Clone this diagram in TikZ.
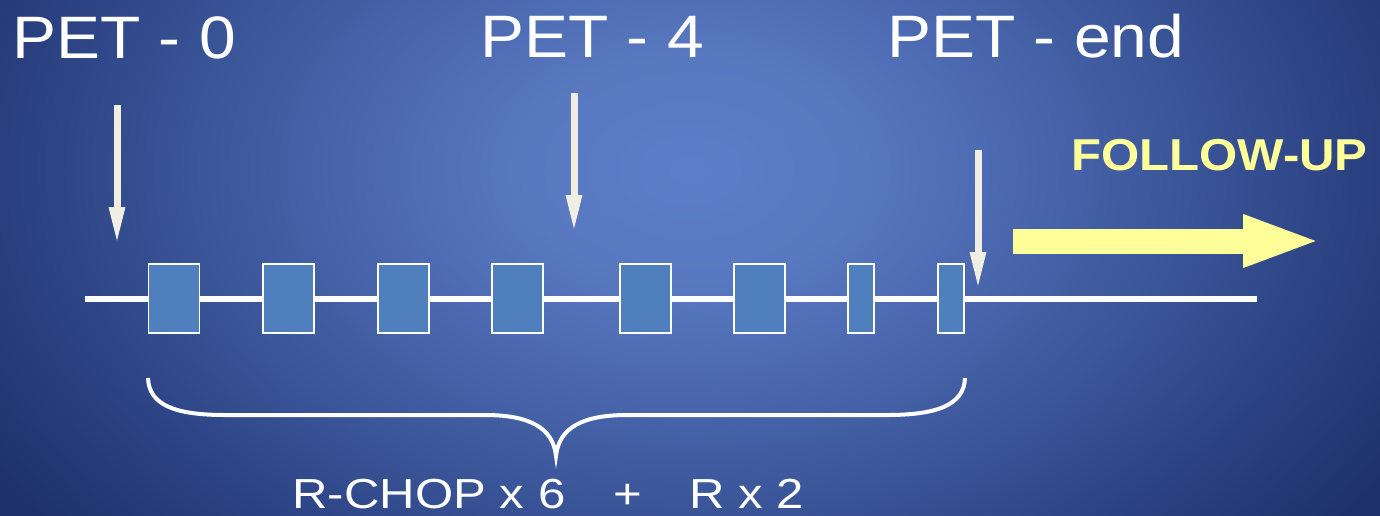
\documentclass[tikz,border=0pt]{standalone}
\usepackage{fontspec}
\setmainfont{Liberation Sans}
\usetikzlibrary{arrows.meta}

\definecolor{bgA}{HTML}{5C7EC8}
\definecolor{bgB}{HTML}{5878C0}
\definecolor{bgC}{HTML}{4A67AE}
\definecolor{bgD}{HTML}{3A5598}
\definecolor{bgE}{HTML}{2B4282}
\definecolor{bgF}{HTML}{1E316D}
\definecolor{cyclefill}{HTML}{4F7FBC}
\definecolor{petcol}{HTML}{F0EDE2}
\definecolor{fucol}{HTML}{FFFF99}

% soft glow behind the slide (the path's box spans -25bp..25bp)
\pgfdeclareradialshading{slideglow}{\pgfpoint{0bp}{0bp}}{%
  color(0bp)=(bgA); color(4bp)=(bgB); color(8bp)=(bgC);
  color(12bp)=(bgD); color(16bp)=(bgE); color(20bp)=(bgF);
  color(50bp)=(bgF)}

\tikzset{
  pettext/.style={anchor=base west, text=white, inner sep=0pt, xscale=1.1,
    font=\fontsize{34.1pt}{40pt}\selectfont},
  futext/.style={anchor=base west, text=fucol, inner sep=0pt, xscale=1.10,
    font=\fontsize{25.4pt}{30pt}\selectfont\bfseries},
  regtext/.style={anchor=base west, text=white, inner sep=0pt, xscale=1.17,
    font=\fontsize{23.9pt}{28pt}\selectfont},
  timeline/.style={draw=white, line width=0.12cm},
  cycle/.style={draw=white, line width=0.8pt, fill=cyclefill, inner sep=0pt,
    minimum height=1.38cm, minimum width=1.02cm},
  halfcycle/.style={cycle, minimum width=0.52cm},
  petarrow/.style={draw=petcol, line width=0.14cm,
    -{Triangle[length=0.76cm, width=0.29cm]}},
  fuarrow/.style={draw=fucol, line width=0.5cm,
    -{Triangle[length=1.58cm, width=0.94cm]}},
  bracepath/.style={draw=white, line width=0.08cm},
}

\begin{document}
\begin{tikzpicture}[x=0.02cm, y=-0.02cm]
  \useasboundingbox (0,0) rectangle (1380,515);

  % background
  \begin{scope}
    \clip (0,0) rectangle (1380,515);
    \shade[shading=slideglow] (690,170) ellipse [x radius=1037, y radius=700];
  \end{scope}

  % labels
  \node[pettext] (lab0) at (12,58) {PET - 0};
  \node[pettext] (lab4) at (480,57) {PET - 4};
  \node[pettext] (labend) at (887,57) {PET - end};
  \node[futext] (fu) at (1071,170) {FOLLOW-UP};

  % treatment time line
  \coordinate (tlA) at (85,298.5);
  \coordinate (tlB) at (1257,298.5);
  \draw[timeline] (tlA) -- (tlB);

  % treatment cycles
  \node[cycle] (c1) at (174,298.5) {};
  \node[cycle] (c2) at (288.5,298.5) {};
  \node[cycle] (c3) at (403.5,298.5) {};
  \node[cycle] (c4) at (517.5,298.5) {};
  \node[cycle] (c5) at (645.5,298.5) {};
  \node[cycle] (c6) at (759.5,298.5) {};
  \node[halfcycle] (c7) at (861,298.5) {};
  \node[halfcycle] (c8) at (951,298.5) {};

  % PET time points
  \coordinate (p0top) at (117,105);
  \coordinate (p0tip) at (117,245);
  \coordinate (p4top) at (574,93);
  \coordinate (p4tip) at (574,233);
  \coordinate (pEtop) at (978,150);
  \coordinate (pEtip) at (978,290);
  \draw[petarrow] (p0top) -- (p0tip);
  \draw[petarrow] (p4top) -- (p4tip);
  \draw[petarrow] (pEtop) -- (pEtip);

  % follow-up arrow
  \coordinate (fuA) at (1013,241);
  \coordinate (fuB) at (1322,241);
  \draw[fuarrow] (fuA) -- (fuB);

  % brace under the cycles
  \coordinate (brL) at (148,378);
  \coordinate (brR) at (965,378);
  \coordinate (brTip) at (556,456);
  \draw[bracepath] (brL)
    .. controls (149,405) and (175,415) .. (225,415)
    -- (485,415)
    .. controls (530,415) and (553,428) .. (brTip)
    .. controls (559,428) and (582,415) .. (627,415)
    -- (887,415)
    .. controls (937,415) and (964,405) .. (brR);

  % regimen
  \node[regtext] (reg1) at (292,508) {R-CHOP x 6};
  \node[regtext] (reg2) at (613,508) {+};
  \node[regtext] (reg3) at (689,508) {R x 2};
\end{tikzpicture}
\end{document}
